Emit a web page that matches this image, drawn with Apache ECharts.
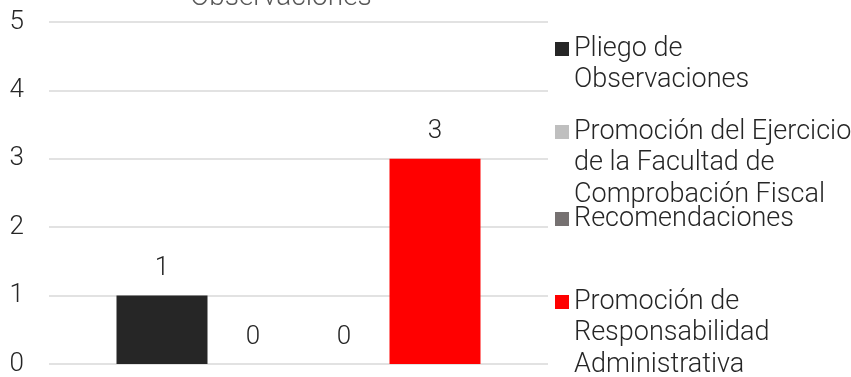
<!DOCTYPE html>
<html>
<head>
<meta charset="utf-8">
<style>html,body{margin:0;padding:0;background:#fff}#c{width:851px;height:377px}</style>
<script src="https://cdn.jsdelivr.net/npm/echarts@6/dist/echarts.min.js"></script>
</head>
<body>
<div id="c"></div>
<script>
const categories = [''];
const seriesNames = [
  'Pliego de\nObservaciones',
  'Promoción del Ejercicio\nde la Facultad de\nComprobación Fiscal',
  'Recomendaciones',
  'Promoción de\nResponsabilidad\nAdministrativa'
];
const seriesValues = [[1], [0], [0], [3]];
const seriesColors = ['#262626', '#BFBFBF', '#767171', '#FF0000'];
const titleText = 'Observaciones';

const FONT = 'Roboto';
const LH = 31.5;
const markerTops = [42, 125, 212, 295];

const chart = echarts.init(document.getElementById('c'), null, {renderer: 'canvas'});

const legends = seriesNames.map((name, i) => {
  const n = name.split('\n').length;
  const total = (2 * n - 1) * LH;
  const textTop = 7 - total / 2;
  return {
    data: [name],
    orient: 'vertical',
    left: 555,
    top: markerTops[i] + textTop,
    padding: 0,
    itemWidth: 14,
    itemHeight: 14,
    itemGap: 7,
    icon: 'rect',
    selectedMode: false,
    formatter: function (nm) {
      const k = nm.split('\n').length;
      return '\n'.repeat(k - 1) + nm;
    },
    textStyle: {
      fontFamily: FONT, fontWeight: 300, fontSize: 27, color: '#262626',
      lineHeight: LH
    }
  };
});

chart.setOption({
  animation: false,
  title: {
    text: titleText,
    left: 276, top: -21, textAlign: 'center',
    textStyle: {fontFamily: FONT, fontWeight: 300, fontSize: 28, color: '#595959'}
  },
  legend: legends,
  grid: {left: 49, right: 303, top: 22, bottom: 13, containLabel: false},
  xAxis: {
    type: 'category', data: categories,
    axisLine: {show: false}, axisTick: {show: false}, axisLabel: {show: false}
  },
  yAxis: {
    type: 'value', min: 0, max: 5, interval: 1,
    axisLine: {show: false}, axisTick: {show: false},
    axisLabel: {fontFamily: FONT, fontWeight: 300, fontSize: 26, color: '#262626', margin: 25},
    splitLine: {lineStyle: {color: '#D9D9D9', width: 1.5}}
  },
  series: seriesNames.map((name, i) => ({
    name: name, type: 'bar', data: seriesValues[i],
    barWidth: 91, barGap: '0%',
    itemStyle: {color: seriesColors[i]},
    label: {show: true, position: 'top', distance: 14,
      fontFamily: FONT, fontWeight: 300, fontSize: 26, color: '#262626'}
  }))
});
</script>
</body>
</html>
